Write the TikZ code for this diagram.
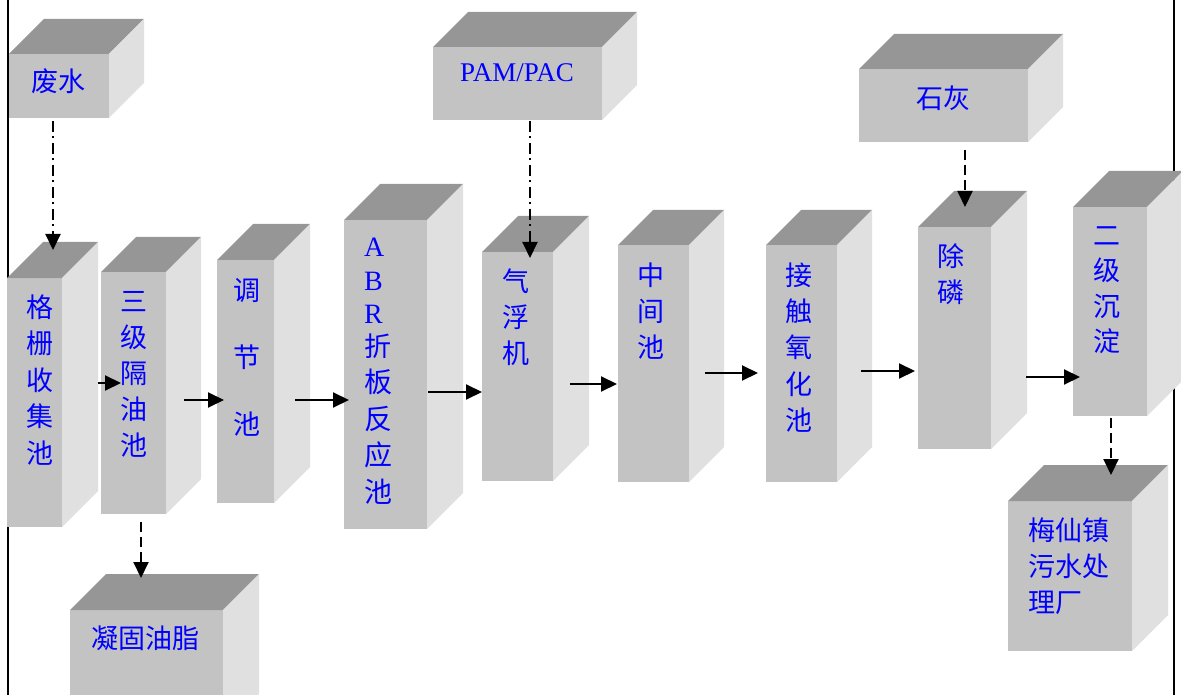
\documentclass[tikz,border=0pt]{standalone}
\usepackage{fontspec}
\setmainfont{Liberation Serif}
\newfontfamily\cjk{Noto Sans CJK SC}
\usetikzlibrary{arrows.meta,calc}
\definecolor{frontc}{RGB}{195,195,195}
\definecolor{topc}{RGB}{150,150,150}
\definecolor{sidec}{RGB}{224,224,224}
\definecolor{txtblue}{RGB}{0,0,255}
\tikzset{
  front/.style={fill=frontc, draw=none, inner sep=0pt, outer sep=0pt, anchor=north west},
  topface/.style={fill=topc},
  sideface/.style={fill=sidec},
  lbl/.style={text=txtblue, inner sep=0pt, outer sep=0pt, align=center},
  cjkv/.style={lbl, font=\cjk\fontsize{27}{#1}\selectfont},
  latin/.style={lbl, font=\fontsize{27}{32}\selectfont},
  flow/.style={line width=2pt, -{Triangle[length=16pt,width=15pt]}},
  feed/.style={flow, dash pattern=on 11pt off 4.5pt on 2pt off 4.5pt},
  drain/.style={flow, dash pattern=on 10pt off 5pt},
  frame/.style={line width=1.6pt}
}
\newcommand\cuboid[6]{%
  \node[front, minimum width=#4pt, minimum height=#5pt] (#1) at (#2,#3) {};
  \fill[topface] (#1.north west) -- ++(#6,-#6) -- ++(#4,0) -- (#1.north east) -- cycle;
  \fill[sideface] (#1.north east) -- ++(#6,-#6) -- ++(0,#5) -- (#1.south east) -- cycle;
}
\begin{document}
\begin{tikzpicture}[x=1pt,y=-1pt]
\useasboundingbox (0,0) rectangle (1181,695);
\clip (0,0) rectangle (1181,695);
% frame lines
\coordinate (fl1) at (8,0); \coordinate (fl2) at (8,695);
\coordinate (fr1) at (1174,0); \coordinate (fr2) at (1174,695);
\draw[frame] (fl1) -- (fl2);
\draw[frame] (fr1) -- (fr2);
% boxes
\cuboid{fs}{9}{54}{100}{64}{35}
\cuboid{gs}{7}{278}{55}{249}{36}
\cuboid{gl}{101}{272}{65}{242}{35}
\cuboid{tj}{217}{260}{57}{243}{36}
\cuboid{abr}{344}{220}{83}{309}{36}
\cuboid{pam}{433}{47}{169}{73}{35}
\cuboid{qf}{482}{252}{71}{229}{36}
\cuboid{zj}{618}{245}{71}{237}{35}
\cuboid{jc}{766}{245}{71}{237}{35}
\cuboid{cl}{918}{227}{73}{222}{36}
\cuboid{sh}{859}{69}{169}{73}{35}
\cuboid{ej}{1073}{207}{74}{209}{36}
\cuboid{mx}{1008}{501}{124}{150}{36}
\cuboid{nj}{70}{610}{153}{120}{36}
% labels
\node[cjkv=32] (fs-t) at (58,81) {废水};
\node[cjkv=32] (sh-t) at (943,98) {石灰};
\node[latin] (pam-t) at (517,73) {PAM/PAC};
\node[cjkv=32] (nj-t) at (145,638) {凝固油脂};
\node[cjkv=36.5] (gs-t) at (40,380) {格\\栅\\收\\集\\池};
\node[cjkv=36] (gl-t) at (134,374) {三\\级\\隔\\油\\池};
\node[cjkv=67] (tj-t) at (247,357) {调\\节\\池};
\node[lbl, align=left, anchor=west, font=\fontsize{28}{36.5}\selectfont] (abr-t) at (364,371)
  {A\\[-3pt]B\\[-3pt]R\\[-4pt]{\cjk\fontsize{27}{36.5}\selectfont 折}\\{\cjk 板}\\{\cjk 反}\\{\cjk 应}\\{\cjk 池}};
\node[cjkv=36] (qf-t) at (516,317) {气\\浮\\机};
\node[cjkv=36] (zj-t) at (651,311) {中\\间\\池};
\node[cjkv=36.25] (jc-t) at (799,347.5) {接\\触\\氧\\化\\池};
\node[cjkv=36] (cl-t) at (951,274) {除\\磷};
\node[cjkv=35.5] (ej-t) at (1107,290) {二\\级\\沉\\淀};
\node[cjkv=36, align=left, anchor=west] (mx-t) at (1028,566) {梅仙镇\\污水处\\理厂};
% main flow
\draw[flow, shorten <=36pt, shorten >=-20pt] (gs.east |- 0,383) -- (gl.west |- 0,383);
\draw[flow, shorten <=18pt, shorten >=-7pt] (gl.east |- 0,400) -- (tj.west |- 0,400);
\draw[flow, shorten <=21pt, shorten >=-5pt] (tj.east |- 0,400) -- (abr.west |- 0,400);
\draw[flow, shorten <=1pt] (abr.east |- 0,392) -- (qf.west |- 0,392);
\draw[flow, shorten <=17pt, shorten >=1pt] (qf.east |- 0,384) -- (zj.west |- 0,384);
\draw[flow, shorten <=16pt, shorten >=8pt] (zj.east |- 0,373) -- (jc.west |- 0,373);
\draw[flow, shorten <=24pt, shorten >=3pt] (jc.east |- 0,371) -- (cl.west |- 0,371);
\draw[flow, shorten <=35pt, shorten >=-7pt] (cl.east |- 0,377) -- (ej.west |- 0,377);
% feeds and outputs
\draw[feed, shorten <=3pt, shorten >=28pt] (fs.south -| 53,0) -- (gs.north -| 53,0);
\draw[feed, shorten <=1pt, shorten >=-6pt] (pam.south -| 530,0) -- (qf.north -| 530,0);
\draw[drain, shorten <=8pt, shorten >=20pt] (sh.south -| 965,0) -- (cl.north -| 965,0);
\draw[drain, shorten <=8pt, shorten >=32pt] (gl.south -| 141,0) -- (nj.north -| 141,0);
\draw[drain, shorten <=2pt, shorten >=26pt] (ej.south -| 1111,0) -- (mx.north -| 1111,0);
\end{tikzpicture}
\end{document}
